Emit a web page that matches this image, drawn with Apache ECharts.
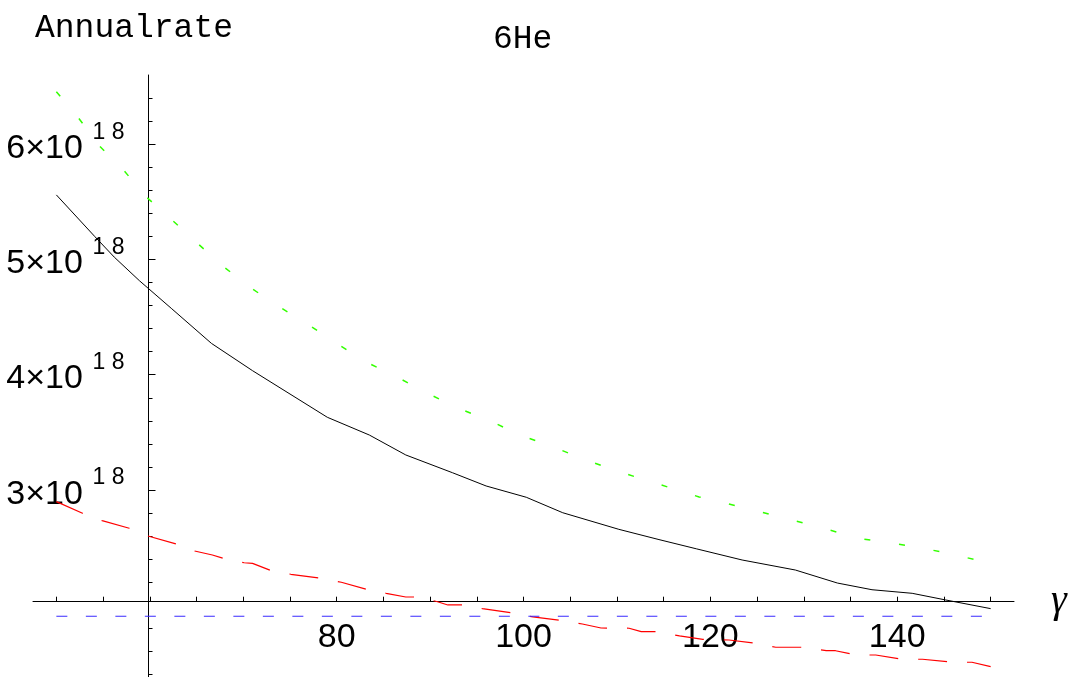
<!DOCTYPE html>
<html>
<head>
<meta charset="utf-8">
<script src="https://cdn.jsdelivr.net/npm/echarts@6/dist/echarts.min.js"></script>
<style>
  html, body { margin: 0; padding: 0; background: #fff; }
  #chart { width: 1072px; height: 677px; }
</style>
</head>
<body>
<div id="chart"></div>
<script>
// ---- data (rates in particles per year, gamma = Lorentz factor) ----
const blackGamma = [50, 54.1, 56.2, 58.9, 62.3, 66.6, 71.0, 79.0, 83.5, 87.4, 92.4, 96.0, 100.3, 104.2, 110.2, 114.5, 118.5, 123.4, 129.1, 133.6, 137.3, 141.6, 145.2, 150];
const blackRate  = [5.56e18, 5.20e18, 5.02e18, 4.815e18, 4.576e18, 4.272e18, 4.035e18, 3.631e18, 3.477e18, 3.304e18, 3.150e18, 3.035e18, 2.937e18, 2.803e18, 2.659e18, 2.57e18, 2.49e18, 2.393e18, 2.306e18, 2.193e18, 2.135e18, 2.104e18, 2.046e18, 1.971e18];

const greenGamma = [50, 52.4, 54.6, 57.1, 59.6, 62.3, 65.0, 67.8, 70.9, 73.6, 76.9, 79.9, 83.1, 86.4, 89.6, 93.0, 96.3, 99.6, 103.1, 106.5, 109.9, 114.5, 118.8, 124.2, 131.6, 135.9, 141.8, 145.5, 150];
const greenRate  = [6.455e18, 6.224e18, 5.986e18, 5.784e18, 5.544e18, 5.348e18, 5.148e18, 4.943e18, 4.749e18, 4.602e18, 4.437e18, 4.278e18, 4.113e18, 3.983e18, 3.844e18, 3.709e18, 3.605e18, 3.477e18, 3.376e18, 3.266e18, 3.167e18, 3.05e18, 2.94e18, 2.835e18, 2.68e18, 2.58e18, 2.51e18, 2.45e18, 2.365e18];

const redGamma = [50, 52.8, 54.9, 57.8, 59.8, 62.8, 64.8, 66.7, 68.1, 70.1, 71.0, 73.0, 75.1, 78.4, 80.5, 83.3, 85.3, 87.4, 88.7, 90.8, 91.9, 93.6, 95.6, 98.9, 101.0, 103.9, 106.3, 108.3, 111.3, 112.6, 114.5, 116.7, 119.2, 122.0, 124.9, 127.0, 130.2, 132.4, 133.4, 135.6, 137.7, 140.5, 142.7, 145.9, 148.0, 150];
const redRate  = [2.899e18, 2.798e18, 2.734e18, 2.668e18, 2.601e18, 2.532e18, 2.471e18, 2.436e18, 2.402e18, 2.369e18, 2.364e18, 2.300e18, 2.269e18, 2.234e18, 2.200e18, 2.137e18, 2.104e18, 2.072e18, 2.072e18, 2.031e18, 2.003e18, 2.003e18, 1.971e18, 1.933e18, 1.899e18, 1.870e18, 1.838e18, 1.803e18, 1.801e18, 1.771e18, 1.771e18, 1.734e18, 1.705e18, 1.699e18, 1.670e18, 1.636e18, 1.636e18, 1.606e18, 1.606e18, 1.569e18, 1.569e18, 1.532e18, 1.532e18, 1.506e18, 1.506e18, 1.468e18];

const blueGamma = [50, 150];
const blueRate  = [1.905e18, 1.905e18];

// ---- axis ticks / labels ----
const xTickValues  = [50, 55, 60, 65, 70, 75, 80, 85, 90, 95, 100, 105, 110, 115, 120, 125, 130, 135, 140, 145, 150];
const xLabelValues = [80, 100, 120, 140];
const yTickValues  = [3e18, 4e18, 5e18, 6e18];
const yLabelValues = [3e18, 4e18, 5e18, 6e18];
const titleText = '6He';
const yName = 'Annualrate';
const xName = 'γ';

const pairs = (xs, ys) => xs.map((x, i) => [x, ys[i]]);

const chart = echarts.init(document.getElementById('chart'), null, { renderer: 'canvas' });
chart.setOption({
  animation: false,
  backgroundColor: '#ffffff',
  title: {
    text: titleText,
    left: 493,
    top: 23,
    padding: 0,
    textStyle: { fontFamily: 'Liberation Mono', fontSize: 33, lineHeight: 33, fontWeight: 'normal', color: '#000' }
  },
  grid: { left: 33, right: 58, top: 75, bottom: 0 },
  xAxis: {
    type: 'value',
    min: 47.5,
    max: 152.5,
    position: 'bottom',
    offset: -75.3,
    name: xName,
    nameLocation: 'end',
    nameGap: 37,
    nameTextStyle: { fontFamily: 'Liberation Serif', fontStyle: 'italic', fontSize: 40, lineHeight: 40, color: '#000' },
    axisLine: { show: true, onZero: false, lineStyle: { color: '#000', width: 1 } },
    axisTick: { show: true, inside: true, length: 5, customValues: xTickValues, lineStyle: { color: '#000', width: 1 } },
    axisLabel: {
      customValues: xLabelValues,
      margin: 19,
      fontFamily: 'Liberation Sans',
      fontSize: 34,
      lineHeight: 34,
      color: '#000'
    },
    splitLine: { show: false }
  },
  yAxis: {
    type: 'value',
    min: 1.378e18,
    max: 6.6e18,
    position: 'left',
    offset: -115.5,
    name: yName,
    nameLocation: 'end',
    nameGap: 47,
    nameTextStyle: {
      fontFamily: 'Liberation Mono', fontSize: 33, lineHeight: 33, color: '#000',
      align: 'center', verticalAlign: 'middle', padding: [0, 29, 0, 0]
    },
    axisLine: { show: true, onZero: false, lineStyle: { color: '#000', width: 1 } },
    axisTick: { show: true, inside: true, length: 7, customValues: yTickValues, lineStyle: { color: '#000', width: 1 } },
    minorTick: { show: true, splitNumber: 5, length: 4, lineStyle: { color: '#000', width: 1 } },
    axisLabel: {
      customValues: yLabelValues,
      margin: 24,
      formatter: (v) => '{s|1 8}\n{b|' + Math.round(v / 1e18) + '×10}{sp|\u00a0\u00a0\u00a0\u00a0\u00a0}',
      rich: {
        s: { fontFamily: 'Liberation Sans', fontSize: 23, lineHeight: 8.4, color: '#000' },
        b: { fontFamily: 'Liberation Sans', fontSize: 34, lineHeight: 24, color: '#000' },
        sp: { fontFamily: 'Liberation Sans', fontSize: 30, lineHeight: 24, color: '#000' }
      }
    },
    splitLine: { show: false }
  },
  series: [
    {
      name: 'green', type: 'line', data: pairs(greenGamma, greenRate),
      showSymbol: false, symbol: 'none', clip: false,
      lineStyle: { color: '#33ff00', width: 1.5, type: [6, 29] }
    },
    {
      name: 'black', type: 'line', data: pairs(blackGamma, blackRate),
      showSymbol: false, symbol: 'none', clip: false,
      lineStyle: { color: '#000000', width: 1 }
    },
    {
      name: 'red', type: 'line', data: pairs(redGamma, redRate),
      showSymbol: false, symbol: 'none', clip: false,
      lineStyle: { color: '#ff0000', width: 1.2, type: [29, 20] }
    },
    {
      name: 'blue', type: 'line', data: pairs(blueGamma, blueRate),
      showSymbol: false, symbol: 'none', clip: false,
      lineStyle: { color: '#3a2bff', width: 1.2, type: [11, 18.5] }
    }
  ]
});
</script>
</body>
</html>
